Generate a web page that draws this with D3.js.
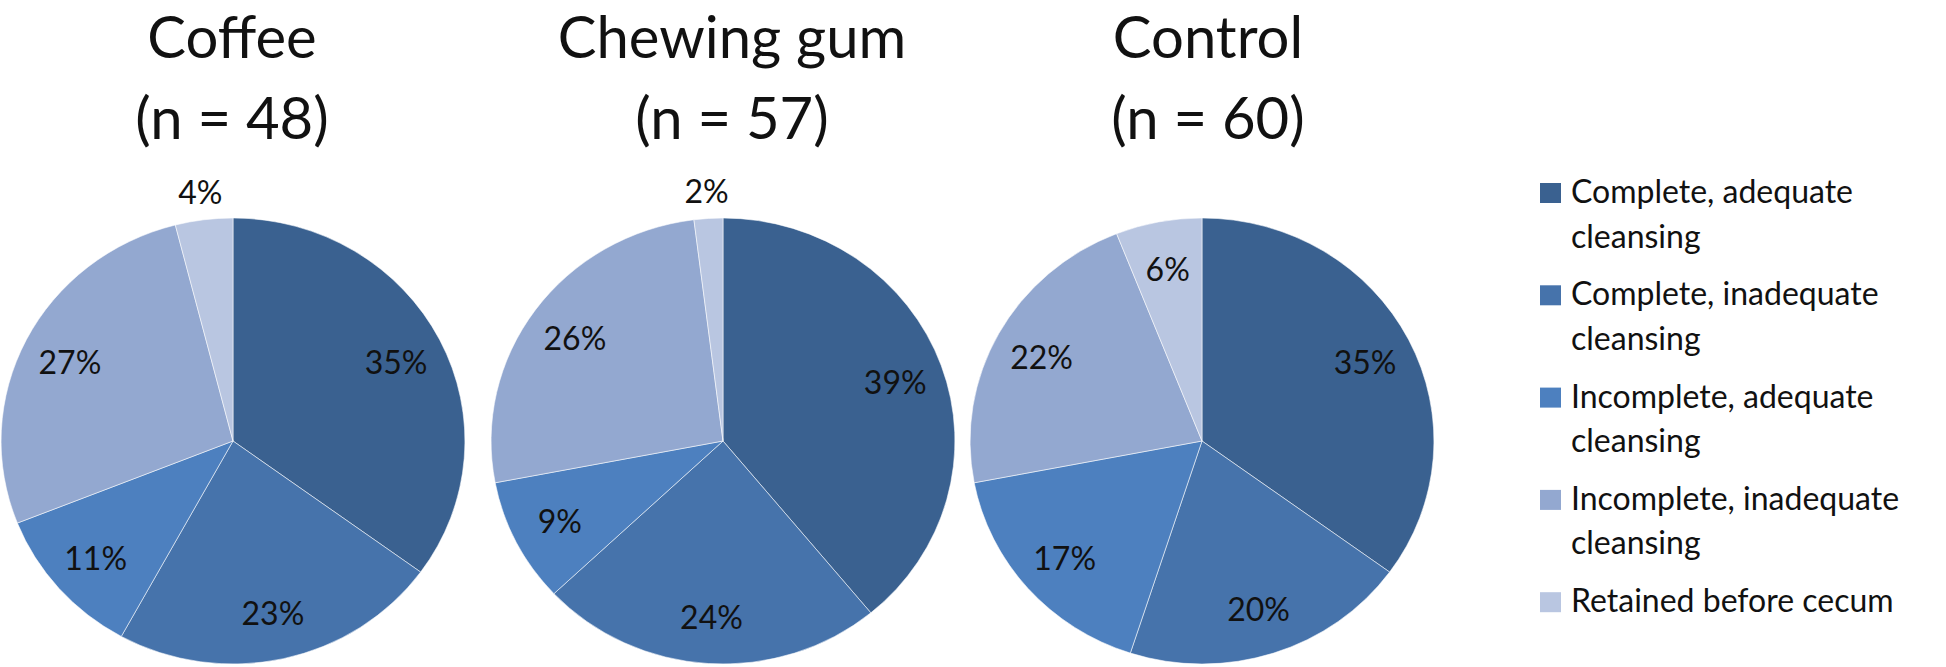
<!DOCTYPE html>
<html>
<head>
<meta charset="utf-8">
<script src="https://cdn.jsdelivr.net/npm/d3@7"></script>
<style>
  html, body { margin: 0; padding: 0; background: #fff; }
  svg { display: block; }
  text { font-family: Lato, "Open Sans", sans-serif; fill: #111; }
</style>
</head>
<body>
<svg id="chart" width="1946" height="667"></svg>
<script>
// ---- data ----
const categories = [
  ["Complete, adequate", "cleansing"],
  ["Complete, inadequate", "cleansing"],
  ["Incomplete, adequate", "cleansing"],
  ["Incomplete, inadequate", "cleansing"],
  ["Retained before cecum"]
];
const groupNames = ["Coffee", "Chewing gum", "Control"];
const groupN = [48, 57, 60];
const coffeeValues = [35, 23, 11, 27, 4];
const gumValues = [39, 24, 9, 26, 2];
const controlValues = [35, 20, 17, 22, 6];
const seriesValues = [coffeeValues, gumValues, controlValues];

// ---- styles / layout ----
const colors = ["#3A6190", "#4673AB", "#4D80BF", "#93A8D0", "#B9C6E1"];
const color = d3.scaleOrdinal().domain(d3.range(categories.length)).range(colors);
const pieCentersX = [233, 723, 1202];
const titleCentersX = [232, 732, 1208];
const cy = 441;
const ry = 223, sx = 1.04;
const labelR = 176;

const svg = d3.select("#chart");
const pie = d3.pie().sort(null).value(d => d);
const arc = d3.arc().innerRadius(0).outerRadius(ry);

groupNames.forEach((name, gi) => {
  const cx = pieCentersX[gi];
  const g = svg.append("g");

  // title
  const t = g.append("text")
    .attr("text-anchor", "middle")
    .style("font-size", "58px");
  t.append("tspan").attr("x", titleCentersX[gi]).attr("y", 58).text(name);
  t.append("tspan").attr("x", titleCentersX[gi]).attr("y", 139).text(`(n = ${groupN[gi]})`);

  const arcs = pie(seriesValues[gi]);
  const pg = g.append("g").attr("transform", `translate(${cx},${cy}) scale(${sx},1)`);
  pg.selectAll("path").data(arcs).enter().append("path")
    .attr("d", arc)
    .attr("fill", (d, i) => color(i))
    .attr("stroke", "rgba(255,255,255,0.55)")
    .attr("stroke-width", 1)
    .attr("vector-effect", "non-scaling-stroke");

  // labels
  g.selectAll("text.lbl").data(arcs).enter().append("text")
    .attr("class", "lbl")
    .attr("text-anchor", "middle")
    .attr("dominant-baseline", "central")
    .style("font-size", "32px")
    .attr("x", d => {
      const a = (d.startAngle + d.endAngle) / 2;
      const r = d.data < 5 ? ry + 28 : labelR;
      return cx + Math.sin(a) * r * sx;
    })
    .attr("y", d => {
      const a = (d.startAngle + d.endAngle) / 2;
      const r = d.data < 5 ? ry + 28 : labelR;
      return cy - Math.cos(a) * r;
    })
    .text(d => d.data + "%");
});

// legend
const legend = svg.append("g");
const legY0 = 203, entryStep = 102.3, lineStep = 44.5;
categories.forEach((lines, i) => {
  const by = legY0 + i * entryStep;
  legend.append("rect")
    .attr("x", 1540).attr("y", by - 20)
    .attr("width", 21).attr("height", 20)
    .attr("fill", color(i));
  const tx = legend.append("text").style("font-size", "32px");
  lines.forEach((ln, j) => {
    tx.append("tspan").attr("x", 1571).attr("y", by + j * lineStep).text(ln);
  });
});
</script>
</body>
</html>
